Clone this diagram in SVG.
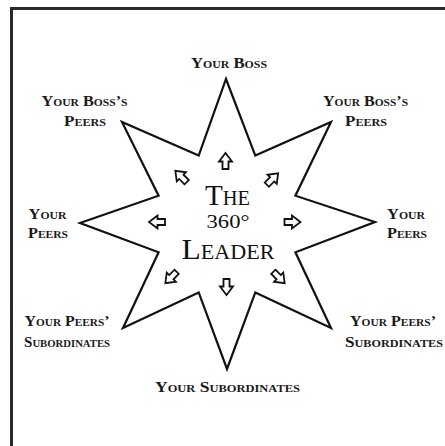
<svg xmlns="http://www.w3.org/2000/svg" xmlns:xlink="http://www.w3.org/1999/xlink" width="445" height="446" viewBox="0 0 445 446">
<style>
.lbl{font-family:"Liberation Serif","Times New Roman",serif;font-weight:bold;font-variant:small-caps;font-size:15.5px;fill:#1a1a1a;text-anchor:middle}
.ctr{font-family:"Liberation Serif","Times New Roman",serif;font-variant:small-caps;font-size:30px;fill:#111;text-anchor:middle}
.star{fill:#fff;stroke:#111;stroke-width:2.2;stroke-linejoin:miter}
.arr{fill:#fff;stroke:#111;stroke-width:1.8;stroke-linejoin:miter}
</style>
<defs>
<path id="arrow" d="M-3,8 V0.5 H-6.5 L0,-8 L6.5,0.5 H3 V8 Z"/>
</defs>
<rect x="0" y="0" width="445" height="446" fill="#fff"/>
<path d="M11.5,446 V8.5 H445" fill="none" stroke="#2a2a2a" stroke-width="3"/>
<g id="star">
<path class="star" d="M226,79 L255.3,155.6 L331,122 L295.4,195.7 L375,222 L295.4,252.3 L331,328 L255.3,292.4 L227,369 L198.7,292.4 L123,328 L158.6,252.3 L80,223 L158.6,195.7 L122,122 L198.7,155.6 Z"/>
</g>
<g id="connectors">
<use href="#arrow" class="arr" transform="translate(225.5,161)"/>
<use href="#arrow" class="arr" transform="translate(272.5,179) rotate(45)"/>
<use href="#arrow" class="arr" transform="translate(292.5,222) rotate(90)"/>
<use href="#arrow" class="arr" transform="translate(279,277.5) rotate(135)"/>
<use href="#arrow" class="arr" transform="translate(226.5,287) rotate(180)"/>
<use href="#arrow" class="arr" transform="translate(171,277.5) rotate(225)"/>
<use href="#arrow" class="arr" transform="translate(157,222) rotate(270)"/>
<use href="#arrow" class="arr" transform="translate(181,176.5) rotate(315)"/>
</g>
<g id="center">
<text class="ctr" x="227.5" y="205" textLength="45" lengthAdjust="spacingAndGlyphs">The</text>
<text class="ctr" x="228" y="228" textLength="43" lengthAdjust="spacingAndGlyphs" style="font-size:18px;font-variant:normal">360°</text>
<text class="ctr" x="228" y="259" textLength="93" lengthAdjust="spacingAndGlyphs">Leader</text>
</g>
<g id="boss">
<text class="lbl" x="229" y="68" textLength="76" lengthAdjust="spacingAndGlyphs">Your Boss</text>
</g>
<g id="boss-peers-left">
<text class="lbl" x="84.5" y="106" textLength="86" lengthAdjust="spacingAndGlyphs">Your Boss’s</text>
<text class="lbl" x="85" y="126" textLength="42" lengthAdjust="spacingAndGlyphs">Peers</text>
</g>
<g id="boss-peers-right">
<text class="lbl" x="365.5" y="106" textLength="85" lengthAdjust="spacingAndGlyphs">Your Boss’s</text>
<text class="lbl" x="366" y="126" textLength="42" lengthAdjust="spacingAndGlyphs">Peers</text>
</g>
<g id="peers-left">
<text class="lbl" x="47.5" y="219" textLength="38" lengthAdjust="spacingAndGlyphs">Your</text>
<text class="lbl" x="48" y="238" textLength="40" lengthAdjust="spacingAndGlyphs">Peers</text>
</g>
<g id="peers-right">
<text class="lbl" x="406" y="219" textLength="38" lengthAdjust="spacingAndGlyphs">Your</text>
<text class="lbl" x="407" y="238" textLength="40" lengthAdjust="spacingAndGlyphs">Peers</text>
</g>
<g id="peers-subs-left">
<text class="lbl" x="67" y="326" textLength="85" lengthAdjust="spacingAndGlyphs">Your Peers’</text>
<text class="lbl" x="67" y="347" textLength="86" lengthAdjust="spacingAndGlyphs">Subordinates</text>
</g>
<g id="peers-subs-right">
<text class="lbl" x="393" y="326" textLength="86" lengthAdjust="spacingAndGlyphs">Your Peers’</text>
<text class="lbl" x="394" y="347" textLength="98" lengthAdjust="spacingAndGlyphs">Subordinates</text>
</g>
<g id="subordinates">
<text class="lbl" x="227.5" y="392" textLength="145" lengthAdjust="spacingAndGlyphs">Your Subordinates</text>
</g>
</svg>
